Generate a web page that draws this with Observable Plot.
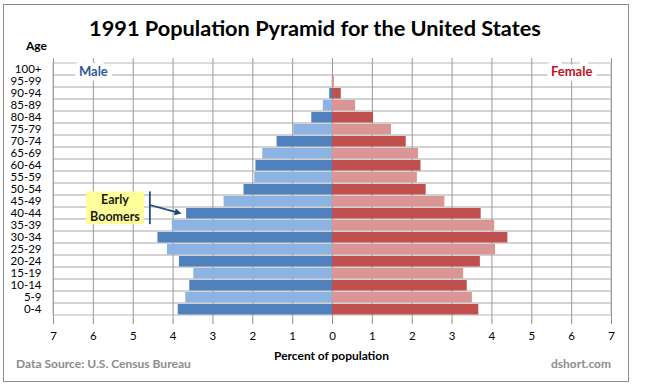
<!DOCTYPE html>
<html><head><meta charset="utf-8">
<script src="https://cdn.jsdelivr.net/npm/d3@7"></script>
<script src="https://cdn.jsdelivr.net/npm/@observablehq/plot@0.6"></script>
<style>
body{margin:0;background:#fff}
#wrap{position:relative;width:645px;height:389px}
#frame{position:absolute;left:3px;top:4px;width:624px;height:376px;border:1px solid #8c8c8c;box-sizing:content-box}
#wrap svg{position:absolute;left:0;top:0}
</style>
</head><body>
<div id="wrap"><div id="frame"></div></div>
<script>
// ---- data (percent of population, 1991) ----
const ages = ["0-4","5-9","10-14","15-19","20-24","25-29","30-34","35-39","40-44","45-49","50-54","55-59","60-64","65-69","70-74","75-79","80-84","85-89","90-94","95-99","100+"];
const male   = [3.87,3.68,3.58,3.48,3.84,4.14,4.38,4.02,3.66,2.72,2.22,1.95,1.92,1.75,1.39,0.97,0.52,0.23,0.07,0.01,0];
const female = [3.67,3.51,3.38,3.29,3.71,4.09,4.40,4.07,3.73,2.82,2.35,2.13,2.22,2.16,1.85,1.48,1.03,0.58,0.22,0.05,0];
const xTicks = [-7,-6,-5,-4,-3,-2,-1,0,1,2,3,4,5,6,7];
const seriesLabels = [{text:"Male", x:-6, age:"100+", color:"#2F5A96"},{text:"Female", x:6, age:"100+", color:"#C0102A"}];
const annotation = {lines:["Early","Boomers"], target:"40-44", from:"45-49", boxX1:-6.17, boxX2:-4.72, barX:-4.57};

const colors = {Male:{dark:"#4F81BD", light:"#8DB3E2"}, Female:{dark:"#C0504D", light:"#D99694"}};
const rows = ages.flatMap((a,i)=>{
  const shade = i%2 ? "light" : "dark";
  return [{age:a, sex:"Male", value:-male[i], color:colors.Male[shade]},
          {age:a, sex:"Female", value:female[i], color:colors.Female[shade]}];
});

const chart = Plot.plot({
  width:645, height:389,
  marginLeft:53, marginRight:34, marginTop:58, marginBottom:70,
  style:{fontFamily:"Lato, 'Open Sans', sans-serif", fontSize:"11.5px", background:"transparent", color:"#000", overflow:"visible"},
  x:{domain:[-7,7], ticks:xTicks, tickFormat:d=>Math.abs(d), tickSize:5, tickPadding:7, label:null},
  y:{domain:ages.slice().reverse(), padding:0, tickSize:0, tickPadding:12, label:null},
  marks:[
    Plot.barX(ages,{y:d=>d, x1:-7, x2:7, fill:"none", stroke:"#d0d0d0", strokeWidth:1.5}),
    Plot.ruleX(xTicks,{stroke:"#9a9a9a"}),
    Plot.barX(rows,{y:"age", x1:0, x2:"value", fill:"color", insetTop:1, insetBottom:0.5}),
    Plot.text(seriesLabels,{x:"x", y:"age", dy:2.5, text:"text", fill:"color", stroke:"white", strokeWidth:9, fontWeight:"bold", fontSize:13})
  ]
});
document.getElementById("wrap").appendChild(chart);

const svg = d3.select(chart);
svg.selectAll('[aria-label="x-axis tick"]').attr("stroke","#888");
svg.selectAll('[aria-label^="x-axis"] line').attr("stroke","#888");

function addText(str, x, y, anchor, size, weight, fill, targetWidth){
  const t = svg.append("text").attr("x",x).attr("y",y).attr("text-anchor",anchor)
    .attr("font-family","Lato, 'Open Sans', sans-serif").attr("font-size",size)
    .attr("font-weight",weight).attr("fill",fill).text(str);
  if (targetWidth){
    const w = t.node().getComputedTextLength();
    if (w>0) t.attr("font-size", size*targetWidth/w);
  }
  return t;
}
addText("1991 Population Pyramid for the United States", 315, 36, "middle", 20, "bold", "#000", 452);
addText("Age", 36.5, 50, "middle", 12, "bold", "#000", 21);
addText("Percent of population", 331.5, 360, "middle", 11, "bold", "#000", 115);
addText("Data Source: U.S. Census Bureau", 16, 368, "start", 11, "bold", "#8c8c8c", 175);
addText("dshort.com", 611, 368, "end", 11, "bold", "#8c8c8c", 60);

// annotation
const sx = chart.scale("x"), sy = chart.scale("y");
const bw = sy.bandwidth;
const X = v => sx.apply(v), Y = v => sy.apply(v);
const boxTop = Y(annotation.from) - 0.3*bw, boxBot = Y(annotation.target) + 1.43*bw;
const g = svg.append("g");
g.append("rect").attr("x",X(annotation.boxX1)).attr("y",boxTop)
  .attr("width",X(annotation.boxX2)-X(annotation.boxX1)).attr("height",boxBot-boxTop).attr("fill","#FFFF99");
g.append("line").attr("x1",X(annotation.barX)).attr("x2",X(annotation.barX)).attr("y1",boxTop).attr("y2",boxBot)
  .attr("stroke","#1F497D").attr("stroke-width",1.8);
const tx = X(-male[ages.indexOf(annotation.target)]) - 4.5, ty = Y(annotation.target) + 0.55*bw;
const fx = X(annotation.barX), fy = Y(annotation.from) + 0.83*bw;
const ang = Math.atan2(ty-fy, tx-fx), ah = 7, aw = 3.5;
g.append("line").attr("x1",fx).attr("y1",fy).attr("x2",tx - ah*Math.cos(ang)*0.8).attr("y2",ty - ah*Math.sin(ang)*0.8)
  .attr("stroke","#1F497D").attr("stroke-width",1.6);
const bx = tx - ah*Math.cos(ang), by = ty - ah*Math.sin(ang);
g.append("path").attr("d",`M${tx},${ty}L${bx - aw*Math.sin(ang)},${by + aw*Math.cos(ang)}L${bx + aw*Math.sin(ang)},${by - aw*Math.cos(ang)}Z`).attr("fill","#1F497D");
const cx = (X(annotation.boxX1)+X(annotation.boxX2))/2;
addText(annotation.lines[0], cx, Y(annotation.from) + 0.75*bw, "middle", 12.5, "bold", "#1a1a1a");
addText(annotation.lines[1], cx, Y(annotation.target) + 1.2*bw, "middle", 12.5, "bold", "#1a1a1a");
</script>
</body></html>
